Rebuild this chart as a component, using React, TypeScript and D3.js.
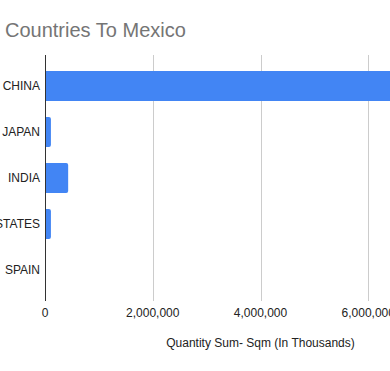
import React, { useEffect, useRef } from 'react';
import * as d3 from 'd3';

const countries = ['CHINA', 'JAPAN', 'INDIA', 'UNITED STATES', 'SPAIN'];
const quantities = [7200000, 110000, 430000, 110000, 0];
const xTicks = [0, 2000000, 4000000, 6000000, 8000000];

const title = 'Countries To Mexico';
const xTitle = 'Quantity Sum- Sqm (In Thousands)';

const App: React.FC = () => {
  const svgRef = useRef<SVGSVGElement>(null);

  useEffect(() => {
    if (!svgRef.current) return;
    const svg = d3.select(svgRef.current);
    svg.selectAll('*').remove();

    const left = 45;
    const right = 476;
    const top = 55;
    const bottom = 301;
    const font = 'Arial, "Liberation Sans", sans-serif';

    const x = d3.scaleLinear().domain([0, 8000000]).range([left, right]);
    const y = d3.scaleBand<string>()
      .domain(countries)
      .range([top, bottom])
      .paddingInner(0.348)
      .paddingOuter(0.348);

    // title
    svg.append('text')
      .attr('x', 5)
      .attr('y', 37)
      .attr('font-family', font)
      .attr('font-size', '20px')
      .attr('fill', '#757575')
      .text(title);

    // gridlines
    svg.append('g')
      .selectAll('line')
      .data(xTicks.filter(d => d > 0))
      .join('line')
      .attr('x1', d => Math.round(x(d)) + 0.5)
      .attr('x2', d => Math.round(x(d)) + 0.5)
      .attr('y1', top)
      .attr('y2', bottom)
      .attr('stroke', '#cccccc')
      .attr('stroke-width', 1);

    // bars, rounded on the right end
    const r = 2;
    svg.append('g')
      .selectAll('path')
      .data(countries.map((c, i) => ({ c, v: quantities[i] })).filter(d => d.v > 0))
      .join('path')
      .attr('fill', '#4285f4')
      .attr('d', d => {
        const x0 = x(0);
        const x1 = x(d.v);
        const y0 = y(d.c)!;
        const h = y.bandwidth();
        const rr = Math.min(r, (x1 - x0) / 2);
        return `M${x0},${y0}H${x1 - rr}Q${x1},${y0} ${x1},${y0 + rr}V${y0 + h - rr}Q${x1},${y0 + h} ${x1 - rr},${y0 + h}H${x0}Z`;
      });

    // baseline
    svg.append('line')
      .attr('x1', x(0) + 0.5)
      .attr('x2', x(0) + 0.5)
      .attr('y1', top)
      .attr('y2', bottom)
      .attr('stroke', '#333333')
      .attr('stroke-width', 1);

    // category labels
    svg.append('g')
      .selectAll('text')
      .data(countries)
      .join('text')
      .attr('x', 40)
      .attr('y', d => y(d)! + y.bandwidth() / 2)
      .attr('dy', '0.35em')
      .attr('text-anchor', 'end')
      .attr('font-family', font)
      .attr('font-size', '12px')
      .attr('fill', '#222222')
      .text(d => d);

    // tick labels
    svg.append('g')
      .selectAll('text')
      .data(xTicks)
      .join('text')
      .attr('x', d => x(d))
      .attr('y', 317)
      .attr('text-anchor', 'middle')
      .attr('font-family', font)
      .attr('font-size', '12px')
      .attr('fill', '#222222')
      .text(d => d3.format(',')(d));

    // axis title
    svg.append('text')
      .attr('x', (left + right) / 2)
      .attr('y', 347)
      .attr('text-anchor', 'middle')
      .attr('font-family', font)
      .attr('font-size', '12px')
      .attr('fill', '#222222')
      .text(xTitle);
  }, []);

  return (
    <svg
      ref={svgRef}
      width={390}
      height={371}
      style={{ position: 'absolute', left: 0, top: 0, background: '#ffffff' }}
    />
  );
};

export default App;
